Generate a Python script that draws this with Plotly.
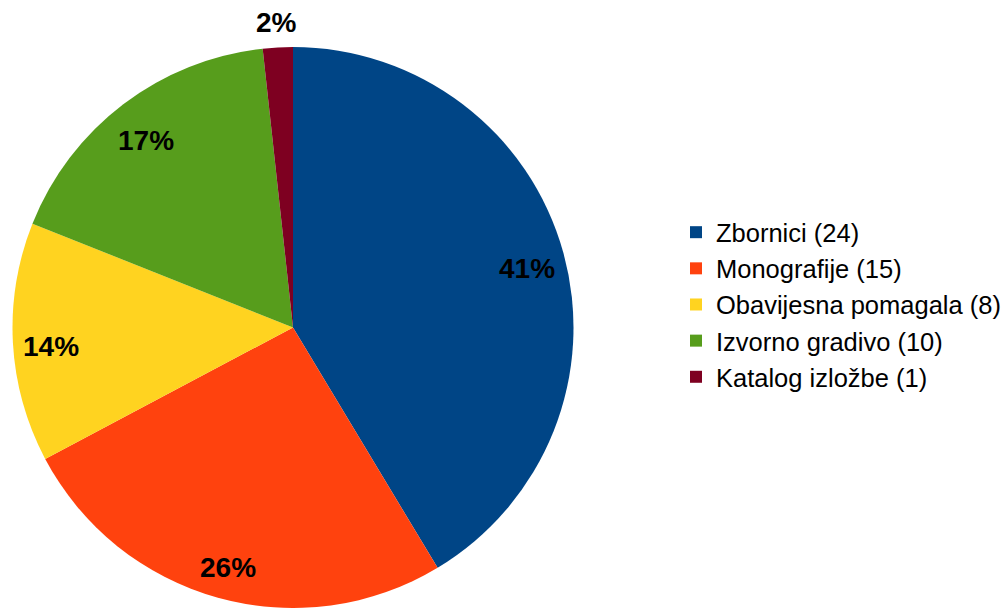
import math
import plotly.graph_objects as go

categories = ["Zbornici", "Monografije", "Obavijesna pomagala", "Izvorno gradivo", "Katalog izložbe"]
counts = [24, 15, 8, 10, 1]
colors = ["#004586", "#ff420e", "#ffd320", "#579d1c", "#7e0021"]

W, H = 1006, 608
legend_labels = [f"{c} ({n})" for c, n in zip(categories, counts)]

# pie domain in pixels
x0, x1 = 12, 574
ytop = 47
dom_x = [x0 / W, x1 / W]
dom_y = [0, 1 - ytop / H]
R = min(x1 - x0, H - ytop) / 2
cx = (x0 + x1) / 2
cy = ytop + R

fig = go.Figure()
fig.add_trace(go.Pie(
    labels=legend_labels,
    values=counts,
    marker=dict(colors=colors, line=dict(width=0)),
    sort=False,
    direction="clockwise",
    rotation=0,
    textinfo="none",
    hoverinfo="label+percent",
    domain=dict(x=dom_x, y=dom_y),
))

total = sum(counts)
annotations = []
cum = 0
for n in counts:
    frac = n / total
    mid = (cum + frac / 2) * 2 * math.pi
    cum += frac
    inside = frac > 0.05
    rr = 0.865 * R if inside else 1.09 * R
    px = cx + rr * math.sin(mid)
    py = cy - rr * math.cos(mid)
    annotations.append(dict(
        x=px / W, y=1 - py / H, xref="paper", yref="paper",
        text=f"<b>{round(frac * 100)}%</b>", showarrow=False,
        font=dict(family="Liberation Sans", size=28, color="black"),
        xanchor="center", yanchor="middle",
        yshift=-6 if inside else 0,
    ))

fig.update_layout(
    width=W, height=H,
    margin=dict(l=0, r=0, t=0, b=0, autoexpand=False),
    paper_bgcolor="white",
    plot_bgcolor="white",
    font=dict(family="Liberation Sans", color="black"),
    annotations=annotations,
    legend=dict(
        x=676 / W, y=0.499, xanchor="left", yanchor="middle",
        font=dict(family="Liberation Sans", size=25.5, color="black"),
        bgcolor="rgba(0,0,0,0)",
    ),
    showlegend=True,
)

fig.write_html(
    "out.html",
    config={"displayModeBar": False},
    post_script="document.body.style.margin='0';document.body.style.overflow='hidden';",
)
